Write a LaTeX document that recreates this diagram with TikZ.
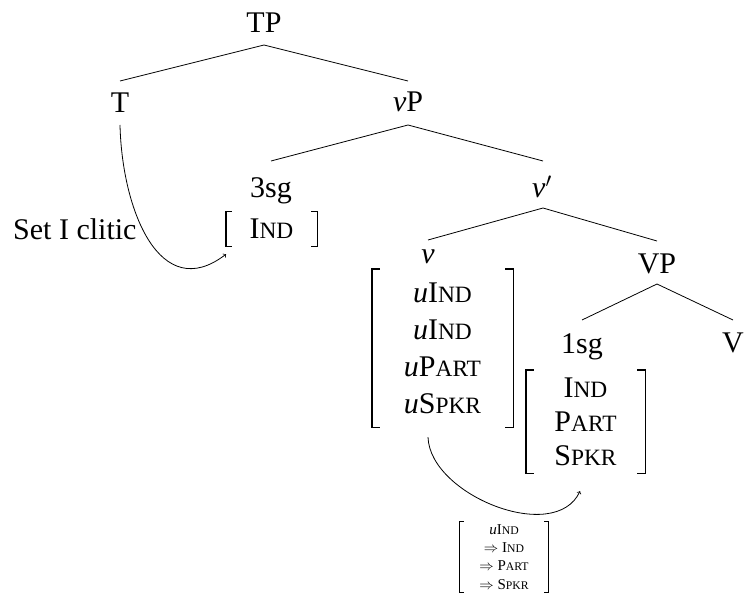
\documentclass[tikz,border=0pt]{standalone}
\usepackage{fontspec}
\setmainfont{Liberation Serif}
\usepackage{graphicx}
\newcommand{\fsc}[2]{#1\scalebox{0.78}{#2}}
\tikzset{
  lbl/.style={inner sep=0pt, font=\fontsize{30}{36}\selectfont},
  edge/.style={line width=0.8pt},
  brk/.style={line width=1.4pt},
  sbrk/.style={line width=0.8pt},
  arr/.style={line width=0.8pt, ->},
}
\begin{document}
\begin{tikzpicture}[x=1pt,y=-1pt]
\useasboundingbox (0,0) rectangle (744,596);
% tree labels
\node[lbl,anchor=base] (TP) at (264,33) {TP};
\node[lbl,anchor=base] (T) at (120,113) {T};
\node[lbl,anchor=base] (vP) at (408,112) {\textit{v}P};
\node[lbl,anchor=base] (s3) at (271,197) {3sg};
\node[lbl,minimum width=91pt,minimum height=34pt] (ind) at (271.5,229) {\fsc{I}{ND}};
\node[lbl,anchor=base] (vbar) at (542,197) {\textit{v}$'$};
\node[lbl,anchor=base] (v) at (428,263) {\textit{v}};
\node[lbl,font=\fontsize{30}{37}\selectfont,align=center,minimum width=141pt,minimum height=158pt] (vm) at (442.5,348)
  {\textit{u}\fsc{I}{ND}\\\textit{u}\fsc{I}{ND}\\\textit{u}\fsc{P}{ART}\\\textit{u}\fsc{S}{PKR}};
\node[lbl,anchor=base] (VP) at (657,273) {VP};
\node[lbl,anchor=base] (s1) at (582,353) {1sg};
\node[lbl,anchor=base] (V) at (733,352) {V};
\node[lbl,font=\fontsize{30}{34}\selectfont,align=center,minimum width=119pt,minimum height=103pt] (m1) at (585.5,421.5)
  {\fsc{I}{ND}\\\fsc{P}{ART}\\\fsc{S}{PKR}};
\node[lbl,font=\fontsize{15}{18.3}\selectfont,align=center,minimum width=88pt,minimum height=70pt] (feat) at (504,557)
  {\textit{u}\fsc{I}{ND}\\$\Rightarrow$ \fsc{I}{ND}\\$\Rightarrow$ \fsc{P}{ART}\\$\Rightarrow$ \fsc{S}{PKR}};
\node[lbl,anchor=base west] (lab) at (13,240) {Set I clitic};
% brackets
\foreach \m/\t/\s in {ind/6pt/brk, vm/8pt/brk, m1/8pt/brk, feat/4pt/sbrk}{
  \draw[\s] ([xshift=\t]\m.north west) -- (\m.north west) -- (\m.south west) -- ([xshift=\t]\m.south west);
  \draw[\s] ([xshift=-\t]\m.north east) -- (\m.north east) -- (\m.south east) -- ([xshift=-\t]\m.south east);
}
% tree edges
\draw[edge] ([yshift=-12pt]TP.base) -- ([yshift=32pt]T.base);
\draw[edge] ([yshift=-12pt]TP.base) -- ([yshift=31pt]vP.base);
\draw[edge] ([yshift=-13pt]vP.base) -- ([yshift=36pt]s3.base);
\draw[edge] ([yshift=-13pt]vP.base) -- ([yshift=36pt,xshift=1pt]vbar.base);
\draw[edge] ([yshift=-11pt,xshift=1pt]vbar.base) -- ([yshift=23pt]v.base);
\draw[edge] ([yshift=-11pt,xshift=1pt]vbar.base) -- ([yshift=32pt]VP.base);
\draw[edge] ([yshift=-11pt]VP.base) -- ([yshift=33pt]s1.base);
\draw[edge] ([yshift=-11pt]VP.base) -- ([yshift=32pt]V.base);
% movement arrows
\draw[arr] ([yshift=-12pt]T.base) .. controls (122,210) and (160,305) .. ([xshift=-45.5pt,yshift=-8pt]ind.south);
\draw[arr] ([xshift=-14.5pt,yshift=-10pt]vm.south) .. controls (430,495) and (555,545) .. ([xshift=-5.5pt,yshift=-18pt]m1.south);
\end{tikzpicture}
\end{document}
